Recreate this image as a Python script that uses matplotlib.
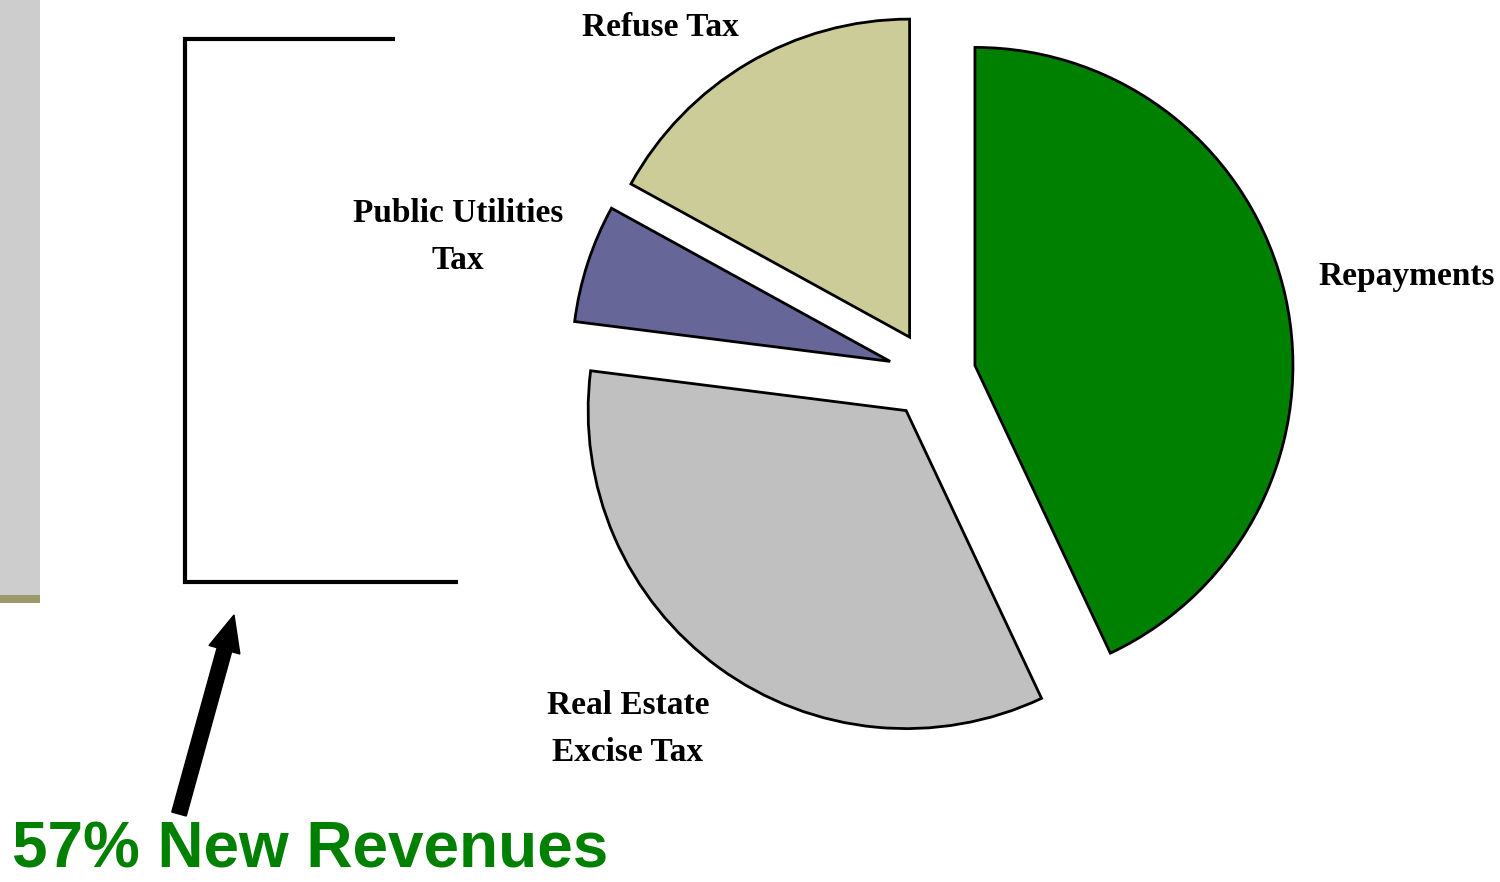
import matplotlib
matplotlib.use("Agg")
import matplotlib.pyplot as plt
from matplotlib.patches import Rectangle, FancyArrow

# Data
categories = ["Repayments", "Real Estate\nExcise Tax", "Public Utilities\nTax", "Refuse Tax"]
shares = [43, 34, 6, 17]
colors = ["#008000", "#c0c0c0", "#666699", "#cccc99"]
headline = "57% New Revenues"

W, H = 1500, 882
fig = plt.figure(figsize=(W / 100, H / 100), dpi=100)
ax = fig.add_axes([0, 0, 1, 1])


def Y(y):
    return H - y


radius = 318
center = (932, Y(375))
explode_amt = 44

ax.pie(shares, colors=colors, startangle=90, counterclock=False,
       radius=radius, center=center, explode=[explode_amt] * len(shares),
       wedgeprops=dict(edgecolor="black", linewidth=2), frame=True)

ax.set_xlim(0, W)
ax.set_ylim(0, H)
ax.set_aspect("equal")
ax.axis("off")

# Left decorative bar
ax.add_patch(Rectangle((0, Y(595)), 40, 595, facecolor="#cdcdcd", edgecolor="none"))
ax.add_patch(Rectangle((0, Y(603)), 40, 8, facecolor="#9c9a6a", edgecolor="none"))

# Bracket
ax.plot([395, 185, 185, 458], [Y(39), Y(39), Y(582), Y(582)], color="black",
        linewidth=3, solid_joinstyle="miter", solid_capstyle="butt")

# Arrow
ax.add_patch(FancyArrow(179, Y(814), 234 - 179, Y(615) - Y(814), width=15,
                        head_width=32, head_length=36, length_includes_head=True,
                        color="black"))

serif = dict(family="Liberation Serif", fontweight="bold", fontsize=24, color="black")
ax.text(660, Y(27), categories[3], ha="center", va="center", **serif)
ax.text(458, Y(237), categories[2], ha="center", va="center", linespacing=1.65, **serif)
ax.text(1318, Y(276), categories[0], ha="left", va="center", **serif)
ax.text(628, Y(729), categories[1], ha="center", va="center", linespacing=1.65, **serif)

ax.text(12, Y(868), headline, ha="left", va="baseline", family="Liberation Sans",
        fontweight="bold", fontsize=46, color="#008000")

fig.savefig("out.png", dpi=100)
